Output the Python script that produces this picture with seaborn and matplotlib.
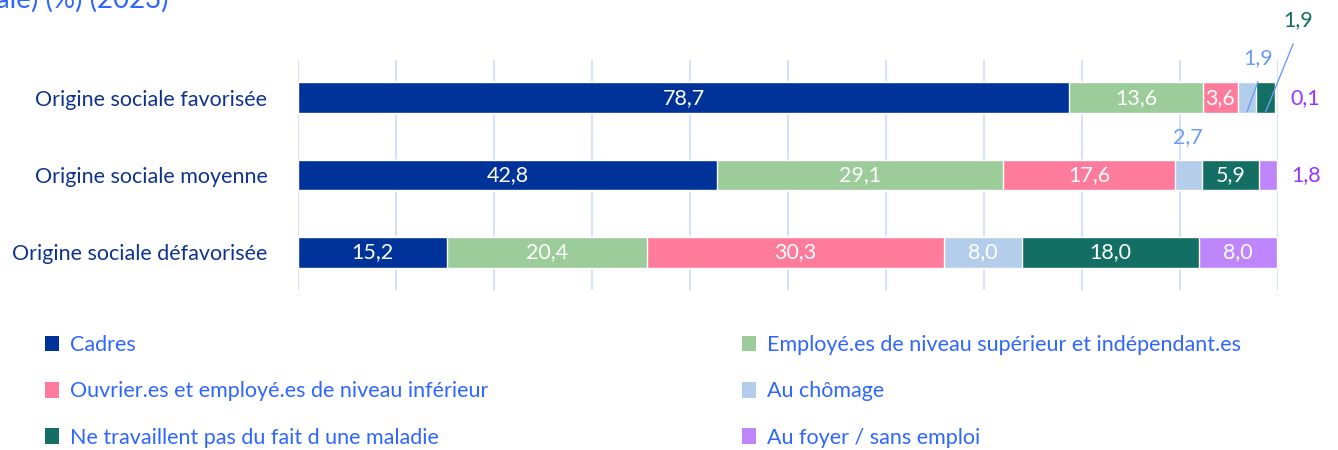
import numpy as np
import pandas as pd
import matplotlib
matplotlib.use("Agg")
import matplotlib.pyplot as plt
from matplotlib.patches import Patch
import seaborn as sns

categories = ["Origine sociale favorisée", "Origine sociale moyenne", "Origine sociale défavorisée"]
series = ["Cadres",
          "Employé.es de niveau supérieur et indépendant.es",
          "Ouvrier.es et employé.es de niveau inférieur",
          "Au chômage",
          "Ne travaillent pas du fait d une maladie",
          "Au foyer / sans emploi"]
cadres = [78.7, 42.8, 15.2]
employes_sup = [13.6, 29.1, 20.4]
ouvriers = [3.6, 17.6, 30.3]
chomage = [1.9, 2.7, 8.0]
maladie = [1.9, 5.9, 18.0]
foyer = [0.1, 1.8, 8.0]

colors = ["#003399", "#9bcc9a", "#ff7b9c", "#b4cdeb", "#136f63", "#bf86fb"]
text_blue = "#2f66ff"
label_blue = "#0f3391"
fs = 15.5

sns.set_theme(style="white")
plt.rcParams['font.family'] = ['Lato', 'DejaVu Sans']

vals = np.array([cadres, employes_sup, ouvriers, chomage, maladie, foyer])
cum = np.cumsum(vals, axis=0)

fig = plt.figure(figsize=(13.38, 4.5), dpi=100)
ax = fig.add_axes([298 / 1338, 1 - 290 / 450, 980 / 1338, 230 / 450])

# cumulative bars drawn from the longest to the shortest
for k in range(len(series) - 1, -1, -1):
    df = pd.DataFrame({"cat": categories, "val": cum[k]})
    sns.barplot(data=df, x="val", y="cat", color=colors[k], saturation=1,
                width=0.4, orient="h", ax=ax, zorder=2)

ax.set_xlim(0, 100)
ax.set_ylim(2.49, -0.49)
ax.set_xticks(np.arange(0, 101, 10))
ax.set_xticklabels([])
ax.xaxis.grid(True, color="#cfdcf7", lw=1.2)
ax.set_axisbelow(True)
ax.tick_params(axis="x", length=0)
ax.tick_params(axis="y", length=0, pad=22, labelsize=fs, labelcolor=label_blue)
ax.set_xlabel("")
ax.set_ylabel("")
for s in ax.spines.values():
    s.set_visible(False)

def fmt(v):
    return f"{v:.1f}".replace(".", ",")

# labels inside the segments
for k in range(len(series)):
    for i in range(len(categories)):
        v = vals[k, i]
        if v >= 3:
            ax.text(cum[k, i] - v / 2, i, fmt(v), ha="center", va="center",
                    color="white", fontsize=fs, zorder=5)

# small values outside
lead = "#6d9cf5"
c_ch0 = cum[3, 0] - chomage[0] / 2
ax.plot([c_ch0, c_ch0 + 1.1], [0.18, -0.21], color=lead, lw=1, zorder=6, clip_on=False)
ax.text(c_ch0 + 1.1, -0.52, fmt(chomage[0]), ha="center", va="center",
        color="#6d9cf5", fontsize=fs)
c_ma0 = cum[4, 0] - maladie[0] / 2
ax.plot([c_ma0, c_ma0 + 2.8], [0.18, -0.70], color=lead, lw=1, zorder=6, clip_on=False)
ax.text(c_ma0 + 3.3, -1.01, fmt(maladie[0]), ha="center", va="center",
        color="#136f63", fontsize=fs, clip_on=False)
ax.text(cum[5, 0] + 1.5, 0, fmt(foyer[0]), ha="left", va="center",
        color="#9933ff", fontsize=fs)
ax.text(cum[3, 1] - chomage[1] / 2, 0.51, fmt(chomage[1]), ha="center", va="center",
        color="#6d9cf5", fontsize=fs)
ax.text(cum[5, 1] + 1.5, 1, fmt(foyer[1]), ha="left", va="center",
        color="#9933ff", fontsize=fs)

# title, partly cut by the top edge
fig.text(168 / 1338, 1 - 8 / 450, "Situation des jeunes selon leur origine sociale (origine sociale) (%) (2023)",
         ha="right", va="baseline", fontsize=20, color=text_blue)

handles = [Patch(facecolor=c, edgecolor="none") for c in colors]
leg_kw = dict(frameon=False, fontsize=fs, labelcolor=text_blue, loc="upper left",
              borderpad=0, borderaxespad=0, handlelength=0.65, handleheight=0.75,
              handletextpad=0.5, labelspacing=1.22)
fig.legend([handles[0], handles[2], handles[4]], [series[0], series[2], series[4]],
           bbox_to_anchor=(45 / 1338, 1 - 335 / 450), **leg_kw)
fig.legend([handles[1], handles[3], handles[5]], [series[1], series[3], series[5]],
           bbox_to_anchor=(742 / 1338, 1 - 335 / 450), **leg_kw)

fig.savefig("out.png", dpi=100)
